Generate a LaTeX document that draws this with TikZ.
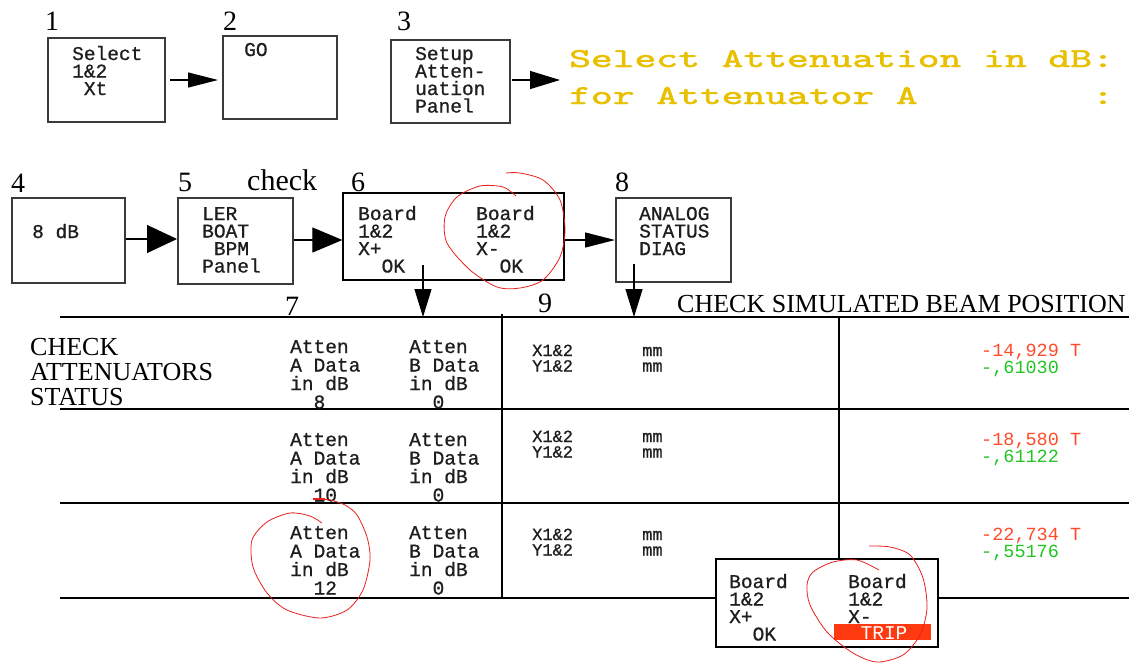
\documentclass[tikz,border=0pt]{standalone}
\usepackage{fontspec}
\setmainfont{Liberation Serif}
\newfontfamily\pixfont[FakeBold=0.8]{Liberation Mono}
\newfontfamily\valfont{Liberation Mono}
\newfontfamily\yelfont[FakeBold=1.5]{lmmono10-regular.otf}
\usetikzlibrary{arrows.meta}
\definecolor{pixgray}{HTML}{1E1E1E}
\definecolor{boxgray}{HTML}{3A3A3A}
\definecolor{yel}{HTML}{E8C000}
\definecolor{valred}{HTML}{FF4A2A}
\definecolor{valgreen}{HTML}{22C322}
\definecolor{tripred}{HTML}{FF3A10}
\definecolor{inkred}{HTML}{E82020}
\begin{document}
\begin{tikzpicture}[x=1pt,y=-1pt,
  screenbox/.style={draw=boxgray, line width=2pt, fill=white, inner sep=0pt},
  thinbox/.style={draw=black, line width=1.3pt, fill=white, inner sep=0pt},
  pix/.style={font=\pixfont\fontsize{19.5}{17.5}\selectfont, text=pixgray, anchor=base west, inner sep=0pt, align=left},
  pixrow/.style={font=\pixfont\fontsize{19.5}{18.5}\selectfont, text=pixgray, anchor=base west, inner sep=0pt, align=left},
  pixsmall/.style={font=\pixfont\fontsize{17}{15.5}\selectfont, text=pixgray, anchor=base west, inner sep=0pt, align=left},
  pixval/.style={font=\valfont\fontsize{18.5}{17}\selectfont, anchor=base west, inner sep=0pt, align=left},
  lbl/.style={font=\fontsize{28}{28}\selectfont, anchor=base, inner sep=0pt},
  serif/.style={font=\fontsize{26}{25}\selectfont, anchor=base west, inner sep=0pt, align=left},
  yeltext/.style={font=\yelfont\fontsize{27.3}{30}\selectfont, text=yel, anchor=base west, inner sep=0pt},
  conn/.style={line width=1.2pt, draw=black},
  tipsmall/.style={conn, -{Triangle[length=30pt,width=15pt]}},
  tipmid/.style={conn, -{Triangle[length=30pt,width=18pt]}},
  tipbig/.style={conn, -{Triangle[length=30pt,width=28pt]}},
  tipwide/.style={conn, -{Triangle[length=30pt,width=25pt]}},
  tipdown/.style={conn, -{Triangle[length=28pt,width=17pt]}},
  tableline/.style={line width=1.3pt, draw=black},
  ink/.style={draw=inkred, line width=0.8pt}
]
\useasboundingbox (0,0) rectangle (1145,662);

% ---------- table ----------
\draw[tableline] (60,317) -- (1129,317);
\draw[tableline] (60,409) -- (1129,409);
\draw[tableline] (60,503) -- (1129,503);
\draw[tableline] (60,598) -- (1129,598);
\draw[tableline] (502,314) -- (502,598);
\draw[tableline] (839,317) -- (839,598);

% ---------- row 1 boxes ----------
\node[lbl] (l1) at (52,30) {1};
\node[lbl] (l2) at (230,30) {2};
\node[lbl] (l3) at (404,30) {3};
\node[screenbox, minimum width=117pt, minimum height=84pt] (b1) at (106.5,80) {};
\node[screenbox, minimum width=114pt, minimum height=83pt] (b2) at (280,77.5) {};
\node[screenbox, minimum width=119pt, minimum height=83pt] (b3) at (450.5,81.5) {};
% multi-line nodes: base anchor = baseline of the last line
\node[pix] (t1) at (72,95) {Select\\1\&2\\\hphantom{0}Xt};
\node[pix] (t2) at (244,56) {GO};
\node[pix] (t3) at (415,112.5) {Setup\\Atten-\\uation\\Panel};
\node[yeltext] (yel1) at (569,67) {\scalebox{1.52}[1]{Select Attenuation in dB:}};
\node[yeltext] (yel2) at (569,104) {\scalebox{1.52}[1]{for Attenuator A\hphantom{00000000}:}};

\draw[tipsmall, shorten <=4pt, shorten >=4pt] (b1.east |- 0,80) -- (b2.west |- 0,80);
\draw[tipmid, shorten <=1pt, shorten >=9pt] (b3.east |- 0,80) -- (yel1.west |- 0,80);

% ---------- row 2 boxes ----------
\node[lbl] (l4) at (18,192) {4};
\node[lbl] (l5) at (185,191) {5};
\node[lbl] (l6) at (358,191) {6};
\node[lbl] (l8) at (622,191) {8};
\node[font=\fontsize{30}{30}\selectfont, anchor=base west, inner sep=0pt] (chk) at (247,190) {check};
\node[screenbox, minimum width=113pt, minimum height=85pt] (b4) at (68.5,240.5) {};
\node[screenbox, minimum width=115pt, minimum height=86pt] (b5) at (235.5,241) {};
\node[thinbox, minimum width=221pt, minimum height=87pt] (b6) at (453.5,236.5) {};
\node[screenbox, minimum width=115pt, minimum height=84pt] (b8) at (673.5,240) {};
\node[pix] (t4) at (32,238) {8 dB};
\node[pix] (t5) at (202,272.5) {LER\\BOAT\\\hphantom{0}BPM\\Panel};
\node[pix] (t6a) at (358,272.5) {Board\\1\&2\\X+\\\hphantom{00}OK};
\node[pix] (t6b) at (476,272.5) {Board\\1\&2\\X-\\\hphantom{00}OK};
\node[pix] (t8) at (639,255) {ANALOG\\STATUS\\DIAG};

\draw[tipbig] (b4.east |- 0,239) -- (b5.west |- 0,239);
\draw[tipwide] (b5.east |- 0,240) -- (b6.west |- 0,240);
\draw[tipsmall] (b6.east |- 0,240) -- (b8.west |- 0,240);

\coordinate (d6s) at (423,265);
\coordinate (d6e) at (423,317);
\coordinate (d8s) at (634,264);
\coordinate (d8e) at (634,317);
\draw[tipdown] (d6s) -- (d6e);
\draw[tipdown] (d8s) -- (d8e);

% ---------- table texts ----------
\node[lbl] (l7) at (292,315) {7};
\node[lbl] (l9) at (545,312) {9};
\node[serif] (csbp) at (677,312) {CHECK SIMULATED BEAM POSITION};
\node[serif] (cas) at (30,405) {CHECK\\ATTENUATORS\\STATUS};

\node[pixrow] (r1a) at (290,408.5) {Atten\\A Data\\in dB\\\hphantom{00}8};
\node[pixrow] (r1b) at (409,408.5) {Atten\\B Data\\in dB\\\hphantom{00}0};
\node[pixrow] (r2a) at (290,501.5) {Atten\\A Data\\in dB\\\hphantom{00}10};
\node[pixrow] (r2b) at (409,501.5) {Atten\\B Data\\in dB\\\hphantom{00}0};
\node[pixrow] (r3a) at (290,594.5) {Atten\\A Data\\in dB\\\hphantom{00}12};
\node[pixrow] (r3b) at (409,594.5) {Atten\\B Data\\in dB\\\hphantom{00}0};

\node[pixsmall] (r1x) at (532,371.5) {X1\&2\\Y1\&2};
\node[pixsmall] (r1m) at (642,371.5) {mm\\mm};
\node[pixsmall] (r2x) at (532,457.5) {X1\&2\\Y1\&2};
\node[pixsmall] (r2m) at (642,457.5) {mm\\mm};
\node[pixsmall] (r3x) at (532,555.5) {X1\&2\\Y1\&2};
\node[pixsmall] (r3m) at (642,555.5) {mm\\mm};

\node[pixval, text=valred] (r1r) at (981,356) {-14,929 T};
\node[pixval, text=valgreen] (r1g) at (981,373.5) {-,61030};
\node[pixval, text=valred] (r2r) at (981,445) {-18,580 T};
\node[pixval, text=valgreen] (r2g) at (981,462.5) {-,61122};
\node[pixval, text=valred] (r3r) at (981,540) {-22,734 T};
\node[pixval, text=valgreen] (r3g) at (981,557.5) {-,55176};

% ---------- trip box ----------
\node[thinbox, minimum width=222pt, minimum height=88pt] (bt) at (827,603) {};
\node[pix] (tta) at (729,640.5) {Board\\1\&2\\X+\\\hphantom{00}OK};
\node[pix] (ttb) at (848,623) {Board\\1\&2\\X-};
\node[fill=tripred, minimum width=97pt, minimum height=16pt, inner sep=0pt] (trip) at (882.5,632) {};
\node[font=\valfont\fontsize{19.5}{17.5}\selectfont, text=white, inner sep=0pt, anchor=base] (tript) at (884,639) {TRIP};

% ---------- red ink ----------
\draw[ink] plot[smooth] coordinates {(506,173) (520,173) (543,180) (560,200) (565,230) (560,257) (543,280) (520,288) (497,287) (470,270) (447,243) (445,217) (457,197) (480,186) (503,187) (516,196)};
\draw[ink] plot[smooth] coordinates {(322,523) (310,516) (290,513) (267,522) (252,540) (253,567) (267,593) (287,610) (320,618) (347,610) (363,590) (370,560) (367,537) (357,515) (345,505) (330,500) (318,499)};
\draw[draw=inkred, line width=1.6pt] (313,499) -- (325,499);
\draw[ink] plot[smooth] coordinates {(869,546) (890,547) (910,555) (923,578) (927,608) (920,635) (903,655) (877,662) (853,653) (827,632) (810,605) (807,585) (813,572) (833,562) (857,560) (879,570)};
\end{tikzpicture}
\end{document}
